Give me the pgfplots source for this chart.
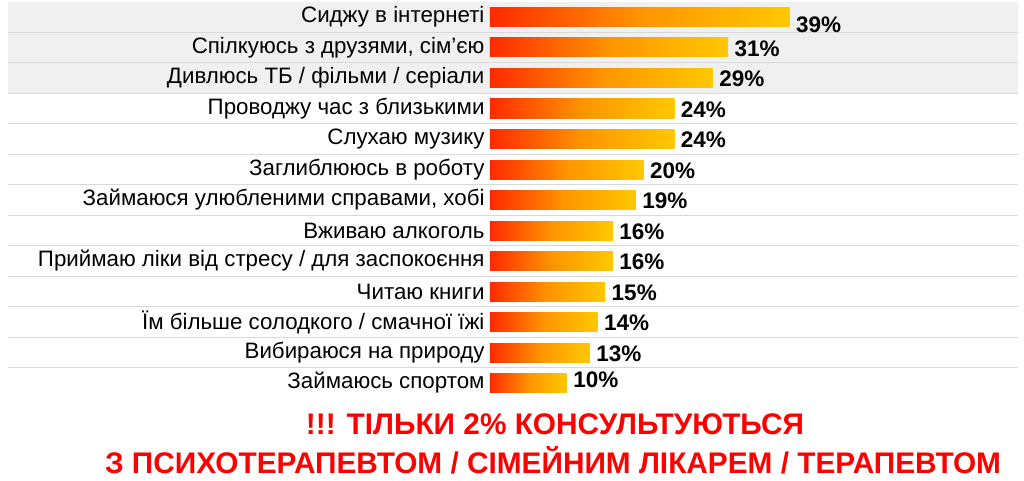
\documentclass[border=0pt]{standalone}
\usepackage{fontspec}
\setmainfont{Liberation Sans}
\usepackage{pgfplots}
\pgfplotsset{compat=1.18}
\definecolor{barL}{HTML}{FF2A00}
\definecolor{barM}{HTML}{FF9400}
\definecolor{barR}{HTML}{FFC800}
\definecolor{band}{HTML}{F0F0F0}
\definecolor{sep}{HTML}{D9D9D9}
\pgfplotsset{mybar/.style={xbar, bar width=19pt, bar shift=0pt, draw=none,
  left color=barL, right color=barR, middle color=barM,
  nodes near coords={\pgfmathprintnumber[assume math mode=true]{\pgfplotspointmeta}\%},
  nodes near coords style={anchor=west, xshift=3pt, yshift=-1pt, font=\bfseries\fontsize{22.5}{26}\selectfont, text=black}}}
\begin{document}
\begin{tikzpicture}
\path (0,0) rectangle (1024pt,480pt);
\begin{axis}[
  set layers,
  scale only axis,
  width=1010pt, height=396.5pt,
  at={(8pt,81.75pt)}, anchor=south west,
  xmin=-62.7, xmax=68.7,
  ymin=-0.5, ymax=12.5,
  y dir=reverse,
  axis line style={draw=none},
  major tick length=0pt,
  xtick=\empty,
  ytick={0,...,12},
  yticklabels={Сиджу в інтернеті, Спілкуюсь з друзями{,} сім'єю, Дивлюсь ТБ / фільми / серіали, Проводжу час з близькими, Слухаю музику, Заглиблююсь в роботу, Займаюся улюбленими справами{,} хобі, Вживаю алкоголь, Приймаю ліки від стресу / для заспокоєння, Читаю книги, Їм більше солодкого / смачної їжі, Вибираюся на природу, Займаюсь спортом},
  yticklabel style={anchor=east, xshift=480pt, font=\fontsize{22.3}{26}\selectfont},
  extra y ticks={0.5,1.5,...,11.5},
  extra y tick labels={},
  extra y tick style={grid=major, major grid style={sep, line width=1.2pt}},
  clip=false,
]
\begin{pgfonlayer}{axis background}
\fill[band] (axis cs:-62.7,-0.5) rectangle (axis cs:68.7,2.5);
\end{pgfonlayer}
\addplot[mybar, nodes near coords style={yshift=-7pt}] coordinates {(39,0)};
\addplot[mybar] coordinates {(31,1)};
\addplot[mybar] coordinates {(29,2)};
\addplot[mybar] coordinates {(24,3)};
\addplot[mybar] coordinates {(24,4)};
\addplot[mybar] coordinates {(20,5)};
\addplot[mybar] coordinates {(19,6)};
\addplot[mybar] coordinates {(16,7)};
\addplot[mybar] coordinates {(16,8)};
\addplot[mybar] coordinates {(15,9)};
\addplot[mybar] coordinates {(14,10)};
\addplot[mybar] coordinates {(13,11)};
\addplot[mybar, nodes near coords style={yshift=4pt}] coordinates {(10,12)};
\end{axis}
\node[text=red, font=\bfseries\fontsize{29.8}{34}\selectfont] at (555pt,56pt) {!!! ТІЛЬКИ 2\% КОНСУЛЬТУЮТЬСЯ};
\node[text=red, font=\bfseries\fontsize{29.8}{34}\selectfont] at (553pt,20pt) {З ПСИХОТЕРАПЕВТОМ / СІМЕЙНИМ ЛІКАРЕМ / ТЕРАПЕВТОМ};
\end{tikzpicture}
\end{document}
